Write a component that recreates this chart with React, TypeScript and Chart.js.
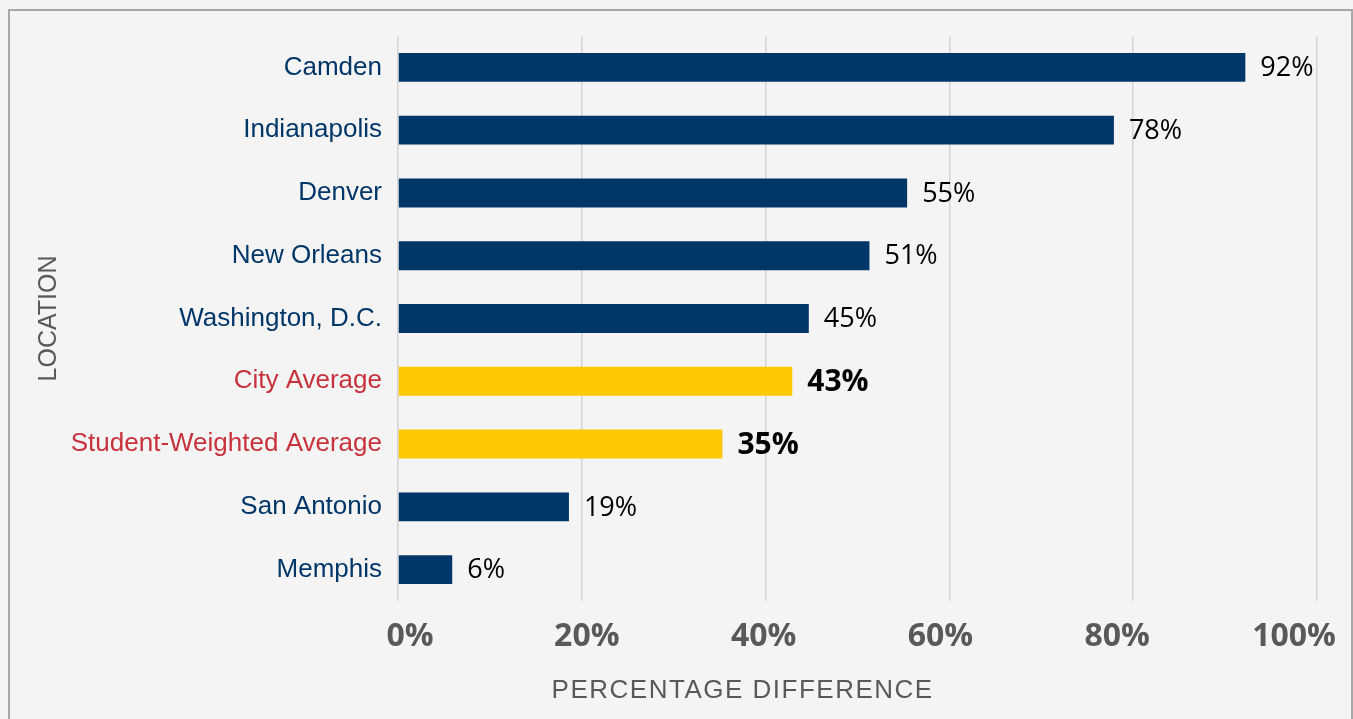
import React, { useEffect, useRef } from "react";
import { Chart, registerables } from "chart.js";

Chart.register(...registerables);

const categories = [
  "Camden",
  "Indianapolis",
  "Denver",
  "New Orleans",
  "Washington, D.C.",
  "City Average",
  "Student-Weighted Average",
  "San Antonio",
  "Memphis",
];
const values = [92.2, 77.9, 55.4, 51.3, 44.7, 42.9, 35.3, 18.6, 5.9];
const averageCategories = ["City Average", "Student-Weighted Average"];
const xTickMin = 0;
const xTickMax = 100;
const xTickStep = 20;
// the reference's tick labels sit on a slightly narrower span than the gridlines
const xLabelAxisMin = -1.36;
const xLabelAxisMax = 102.6;
const yTitle = "LOCATION";
const xTitle = "PERCENTAGE DIFFERENCE";

const NAVY = "#003668";
const GOLD = "#FCC800";
const RED = "#C7323C";
const GRAY = "#595959";

export default function App() {
  const ref = useRef<HTMLCanvasElement | null>(null);

  useEffect(() => {
    if (!ref.current) return;
    const isAvg = (i: number) => averageCategories.includes(categories[i]);

    const valueLabels = {
      id: "valueLabels",
      afterDatasetsDraw(chart: any) {
        const ctx = chart.ctx;
        const meta = chart.getDatasetMeta(0);
        ctx.save();
        meta.data.forEach((bar: any, i: number) => {
          const avg = isAvg(i);
          ctx.font = avg ? 'bold 30px "Open Sans"' : '27px "Open Sans"';
          ctx.fillStyle = "#000000";
          ctx.textAlign = "left";
          ctx.textBaseline = "middle";
          ctx.fillText(Math.round(values[i]) + "%", bar.x + 15, bar.y + 1);
        });
        ctx.restore();
      },
    };

    const xTitlePlugin = {
      id: "xTitlePlugin",
      afterDraw(chart: any) {
        const ctx = chart.ctx;
        const area = chart.chartArea;
        ctx.save();
        ctx.font = '26px "Liberation Sans", Arial, sans-serif';
        try {
          (ctx as any).letterSpacing = "1.5px";
        } catch (e) {}
        ctx.fillStyle = GRAY;
        ctx.textAlign = "center";
        ctx.textBaseline = "middle";
        ctx.fillText(xTitle, area.left + (area.right - area.left) * 0.375, 691);
        ctx.restore();
      },
    };

    const chart = new Chart(ref.current, {
      type: "bar",
      data: {
        labels: categories,
        datasets: [
          {
            data: values,
            backgroundColor: categories.map((_, i) => (isAvg(i) ? GOLD : NAVY)),
            borderWidth: 0,
            barPercentage: 0.46,
            categoryPercentage: 1,
          },
        ],
      },
      options: {
        indexAxis: "y",
        responsive: false,
        animation: false,
        layout: { padding: { left: 34, right: 36, top: 36, bottom: 58 } },
        plugins: {
          legend: { display: false },
          tooltip: { enabled: false },
        },
        scales: {
          x: {
            min: xTickMin,
            max: xTickMax,
            weight: 1,
            ticks: { stepSize: xTickStep, display: false },
            grid: { color: "#d4d4d4", lineWidth: 1.5, drawTicks: false },
            border: { display: false },
            afterFit: (scale: any) => {
              scale.height = 0;
              scale.paddingLeft = 0;
              scale.paddingRight = 0;
            },
          },
          xLabels: {
            type: "linear",
            position: "bottom",
            axis: "x",
            weight: 2,
            min: xLabelAxisMin,
            max: xLabelAxisMax,
            ticks: {
              stepSize: xTickStep,
              includeBounds: false,
              callback: (v: any) => v + "%",
              color: GRAY,
              font: { family: '"Open Sans"', size: 32, weight: "bold" },
              padding: 17,
              maxRotation: 0,
              autoSkip: false,
            },
            afterBuildTicks: (scale: any) => {
              scale.ticks = scale.ticks.filter((t: any) => t.value >= xTickMin && t.value <= xTickMax);
            },
            grid: { display: false, drawTicks: false },
            border: { display: false },
            afterFit: (scale: any) => {
              scale.height = 60;
              scale.paddingLeft = 0;
              scale.paddingRight = 0;
            },
          },
          y: {
            ticks: {
              color: (ctx: any) => (isAvg(ctx.index) ? RED : NAVY),
              font: { family: '"Liberation Sans", Arial, sans-serif', size: 26 },
              padding: 16,
            },
            grid: { display: false, drawTicks: false },
            border: { display: false },
            title: {
              display: true,
              text: yTitle,
              color: GRAY,
              font: { family: '"Liberation Sans", Arial, sans-serif', size: 25 },
              padding: 0,
            },
            afterFit: (scale: any) => {
              scale.width = 364;
              scale.paddingTop = 0;
              scale.paddingBottom = 0;
            },
          },
        } as any,
      },
      plugins: [valueLabels, xTitlePlugin],
    });
    return () => chart.destroy();
  }, []);

  return (
    <div style={{ position: "fixed", left: 0, top: 0, width: 1353, height: 719, background: "#f4f4f4", overflow: "hidden" }}>
      <div
        style={{
          position: "absolute",
          left: 8,
          top: 9,
          width: 1345,
          height: 730,
          border: "2px solid #a8a8a8",
          boxSizing: "border-box",
        }}
      />
      <canvas ref={ref} width={1353} height={719} style={{ position: "absolute", left: 0, top: 0 }} />
    </div>
  );
}
